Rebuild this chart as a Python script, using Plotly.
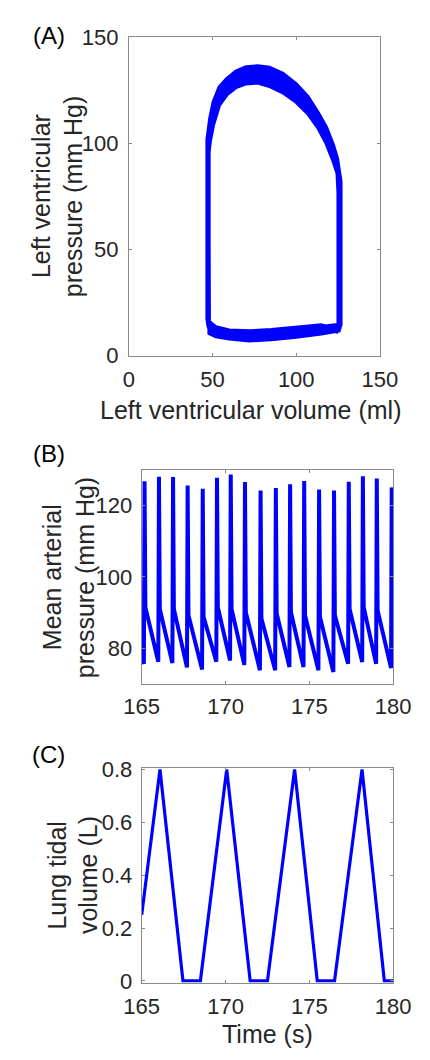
import plotly.graph_objects as go

# ---------------- Panel A: pressure-volume loops (several overlapping cycles) ----------------
edv = [125.1, 125.4, 125.7, 126.0, 126.3, 126.6]          # end-diastolic volume (ml)
esv = [47.8, 47.6, 47.4, 47.2, 47.0, 46.8]                # end-systolic volume (ml)
p_ed = [11.0, 11.8, 12.5, 13.3, 14.0, 14.8]               # end-diastolic pressure (mm Hg)
p_ivc = [77.0, 78.0, 79.0, 80.0, 81.0, 82.0]              # end of isovolumic contraction
p_es = [96.0, 97.2, 98.4, 99.6, 100.8, 102.0]             # end-systolic pressure
p_mvo = [12.0, 13.0, 14.0, 15.0, 16.0, 17.0]              # end of isovolumic relaxation
ej_vol = [124.5, 122, 118, 113, 107, 100, 92, 84, 77, 70, 64, 58.5, 54, 50.5, 48.5]
ej_p = [
    [86.0, 92.0, 100.0, 107.5, 114.0, 119.5, 124.0, 127.0, 128.6, 128.2, 126.5, 123.0, 118.0, 109.0, 101.0],
    [87.4, 93.5, 101.5, 108.9, 115.6, 121.2, 125.8, 128.8, 130.2, 129.8, 128.0, 124.5, 119.7, 111.1, 103.2],
    [88.8, 95.0, 103.0, 110.3, 117.2, 122.9, 127.6, 130.5, 131.8, 131.3, 129.5, 126.0, 121.4, 113.2, 105.4],
    [90.2, 96.5, 104.5, 111.7, 118.8, 124.6, 129.4, 132.3, 133.3, 132.9, 131.0, 127.5, 123.1, 115.3, 107.6],
    [91.6, 98.0, 106.0, 113.1, 120.4, 126.3, 131.2, 134.0, 134.9, 134.4, 132.5, 129.0, 124.8, 117.4, 109.8],
    [93.0, 99.5, 107.5, 114.5, 122.0, 128.0, 133.0, 135.8, 136.5, 136.0, 134.0, 130.5, 126.5, 119.5, 112.0],
]
fill_vol = [48, 52, 60, 72, 85, 100, 115]
fill_p = [
    [10.5, 9.0, 8.0, 7.1, 7.6, 8.8, 10.3],
    [11.6, 9.9, 8.8, 8.0, 8.5, 9.7, 11.1],
    [12.7, 10.8, 9.6, 8.9, 9.4, 10.5, 11.9],
    [13.8, 11.7, 10.4, 9.8, 10.4, 11.4, 12.8],
    [14.9, 12.6, 11.2, 10.7, 11.3, 12.3, 13.6],
    [16.0, 13.5, 12.0, 11.6, 12.2, 13.2, 14.4],
]

# ---------------- Panel B: arterial pressure ----------------
map_t = [165.00, 165.13, 165.17, 165.22, 165.99, 166.03, 166.08, 166.83, 166.87, 166.92,
         167.70, 167.74, 167.79, 168.60, 168.64, 168.69, 169.45, 169.49, 169.54,
         170.27, 170.31, 170.36, 171.12, 171.16, 171.21, 172.05, 172.09, 172.14,
         172.96, 173.00, 173.05, 173.81, 173.85, 173.90, 174.65, 174.69, 174.74,
         175.54, 175.58, 175.63, 176.43, 176.47, 176.52, 177.31, 177.35, 177.40,
         178.15, 178.19, 178.24, 178.98, 179.02, 179.07, 179.87, 179.91, 180.00]
map_p = [77.0, 75.6, 126.8, 91.5, 76.2, 128.1, 91.0, 75.8, 128.0, 91.0,
         74.6, 125.6, 89.2, 74.0, 124.7, 88.8, 76.2, 127.8, 91.5,
         76.5, 128.7, 91.0, 75.3, 126.6, 90.1, 73.8, 124.2, 88.3,
         73.8, 124.9, 89.7, 74.7, 126.0, 90.1, 74.7, 126.9, 89.2,
         73.8, 124.5, 88.8, 73.3, 124.2, 89.2, 75.6, 126.7, 91.0,
         76.1, 128.2, 91.5, 75.6, 127.6, 90.6, 74.4, 125.1, 103.7]

# ---------------- Panel C: lung tidal volume ----------------
lung_t = [165.0, 166.09, 167.46, 168.5, 170.07, 171.47, 172.5, 174.12, 175.47, 176.5, 178.14, 179.47, 180.0]
lung_v = [0.25, 0.8, 0.0, 0.0, 0.8, 0.0, 0.0, 0.8, 0.0, 0.0, 0.8, 0.0, 0.0]

# ticks
a_ticks = [0, 50, 100, 150]
b_yticks = [80, 100, 120]
t_ticks = [165, 170, 175, 180]
c_yticks = [0, 0.2, 0.4, 0.6, 0.8]
c_yticklabels = ["0", "0.2", "0.4", "0.6", "0.8"]

# build PV loop path
pv_x, pv_y = [], []
for k in range(len(edv)):
    pv_x += [edv[k], edv[k], edv[k]] + ej_vol + [esv[k], esv[k], esv[k]] + fill_vol
    pv_y += [p_ed[k], 45.0, p_ivc[k]] + ej_p[k] + [p_es[k], 50.0, p_mvo[k]] + fill_p[k]
pv_x.append(edv[0]); pv_y.append(p_ed[0])

BLUE = "#0000ff"
TXT = "#262626"
LINE = "#8a8a8a"
FONT = "Liberation Sans, Arial, sans-serif"

fig = go.Figure()
fig.add_trace(go.Scatter(x=pv_x, y=pv_y, mode="lines", line=dict(color=BLUE, width=3.6),
                         xaxis="x", yaxis="y", showlegend=False))
fig.add_trace(go.Scatter(x=map_t, y=map_p, mode="lines", line=dict(color=BLUE, width=4),
                         xaxis="x2", yaxis="y2", showlegend=False))
fig.add_trace(go.Scatter(x=lung_t, y=lung_v, mode="lines", line=dict(color=BLUE, width=3.2),
                         xaxis="x3", yaxis="y3", showlegend=False))

W, H = 430, 1060
def dx(a, b):
    return [a / W, b / W]
def dy(top, bot):
    return [1 - bot / H, 1 - top / H]

common = dict(showline=True, linecolor=LINE, linewidth=1, mirror="allticks", ticks="inside",
              ticklen=3, tickcolor=LINE, showgrid=False, zeroline=False,
              tickfont=dict(family=FONT, size=22, color=TXT))

fig.update_layout(
    width=W, height=H, margin=dict(l=0, r=0, t=0, b=0),
    paper_bgcolor="white", plot_bgcolor="white", showlegend=False,
    xaxis=dict(domain=dx(121, 395), range=[0, 150], tickvals=a_ticks, anchor="y",
               ticklabelstandoff=4, **common),
    yaxis=dict(domain=dy(26, 352), range=[0, 150], tickvals=a_ticks, anchor="x",
               ticklabelstandoff=5, **common),
    xaxis2=dict(domain=dx(135, 409.5), range=[165, 180], tickvals=t_ticks, anchor="y2",
                ticklabelstandoff=3, **common),
    yaxis2=dict(domain=dy(469, 688), range=[70, 130], tickvals=b_yticks, anchor="x2",
                ticklabelstandoff=4, **common),
    xaxis3=dict(domain=dx(135, 409.5), range=[165, 180], tickvals=t_ticks, anchor="y3",
                ticklabelstandoff=4, **common),
    yaxis3=dict(domain=dy(774, 994), range=[-0.006, 0.806], tickvals=c_yticks,
                ticktext=c_yticklabels, anchor="x3", ticklabelstandoff=4, **common),
)

def ann(text, xpx, ypx, angle=0, size=25, color=TXT):
    fig.add_annotation(text=text, x=xpx / W, y=1 - ypx / H, xref="paper", yref="paper",
                       xanchor="center", yanchor="middle", showarrow=False, textangle=angle,
                       font=dict(family=FONT, size=size, color=color))

# axis titles
ann("Left ventricular volume (ml)", 254, 407.3)
ann("Time (s)", 272.5, 1046.3)
ann("Left ventricular", 24.6, 189, -90)
ann("pressure (mm Hg)", 59.6, 189, -90)
ann("Mean arterial", 38, 579, -90)
ann("pressure (mm Hg)", 73, 579, -90)
ann("Lung tidal", 43, 884, -90)
ann("volume (L)", 76.3, 884, -90)
# panel labels
ann("(A)", 33.3, 24, size=24, color="#000000")
ann("(B)", 33.3, 452, size=24, color="#000000")
ann("(C)", 33.3, 760, size=24, color="#000000")

fig.write_html("out.html")
